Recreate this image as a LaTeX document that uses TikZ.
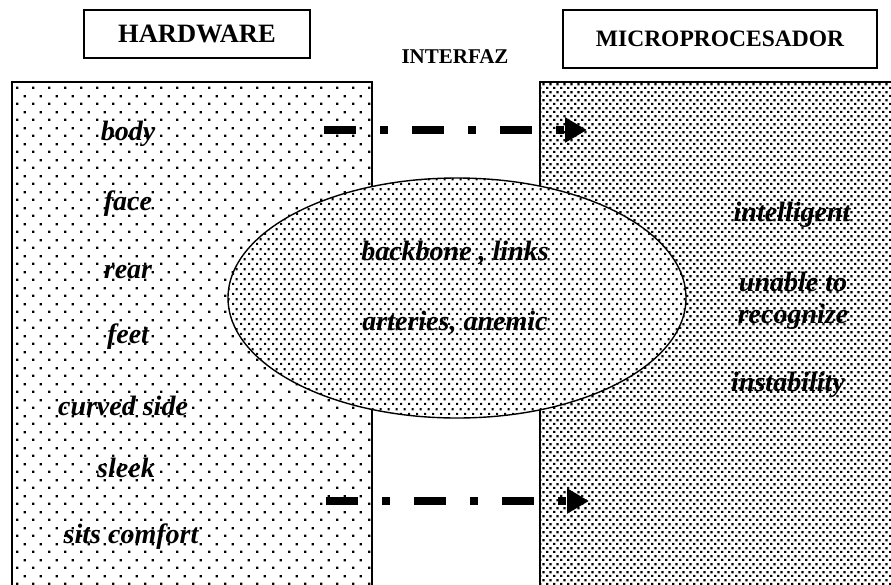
\documentclass[tikz,border=0pt]{standalone}
\usepackage{fontspec}
\setmainfont{Liberation Serif}
\usetikzlibrary{patterns}
\usetikzlibrary{shapes.geometric}
\usetikzlibrary{arrows.meta}
% dot fills, one per area
\pgfdeclarepatternformonly{sparsedots}{\pgfpointorigin}{\pgfqpoint{16pt}{16pt}}{\pgfqpoint{16pt}{16pt}}{
  \pgfpathrectangle{\pgfqpoint{0pt}{0pt}}{\pgfqpoint{2.4pt}{2.4pt}}
  \pgfpathrectangle{\pgfqpoint{8pt}{8pt}}{\pgfqpoint{2.4pt}{2.4pt}}
  \pgfusepath{fill}}
\pgfdeclarepatternformonly{middots}{\pgfpointorigin}{\pgfqpoint{8pt}{10pt}}{\pgfqpoint{8pt}{10pt}}{
  \pgfpathrectangle{\pgfqpoint{0pt}{0pt}}{\pgfqpoint{2.4pt}{2.4pt}}
  \pgfpathrectangle{\pgfqpoint{4pt}{5pt}}{\pgfqpoint{2.4pt}{2.4pt}}
  \pgfusepath{fill}}
\pgfdeclarepatternformonly{densedots}{\pgfpointorigin}{\pgfqpoint{7.4pt}{8pt}}{\pgfqpoint{7.4pt}{8pt}}{
  \pgfpathrectangle{\pgfqpoint{0pt}{0pt}}{\pgfqpoint{2.5pt}{2.5pt}}
  \pgfpathrectangle{\pgfqpoint{3.7pt}{4pt}}{\pgfqpoint{2.5pt}{2.5pt}}
  \pgfusepath{fill}}
\tikzset{
    panel/.style = {draw=black, line width=1.8pt},
    titlebox/.style = {rectangle, draw=black, line width=1.6pt, inner sep=0pt, font=\bfseries\fontsize{26.5}{29}\selectfont},
    hwpanel/.style = {panel, pattern=sparsedots},
    mppanel/.style = {panel, pattern=densedots},
    bridge/.style = {ellipse, draw=black, line width=1.4pt, preaction={fill=white}, pattern=middots, inner sep=0pt},
    term/.style = {inner sep=1pt, align=center, font=\bfseries\itshape\fontsize{28}{32}\selectfont},
    link/.style = {line width=8.5pt, dash pattern=on 32pt off 24pt on 8pt off 24pt, -{Triangle[length=22pt,width=24pt]}}
}
\begin{document}
\begin{tikzpicture}[x=1pt,y=-1pt]
\path[use as bounding box] (0,0) rectangle (891,584);
%
\node[titlebox, minimum width=226, minimum height=48] at (197,34) (hw) {HARDWARE};
\node[titlebox, minimum width=314, minimum height=58, font=\bfseries\fontsize{23.5}{26}\selectfont] at (720,39) (mp) {MICROPROCESADOR};
\node[inner sep=0pt, font=\bfseries\fontsize{21}{23}\selectfont] at (455,57) (itf) {INTERFAZ};
%
\draw[hwpanel] (12,590) -- (12,82) -- (372,82) -- (372,590);
\draw[mppanel] (540,590) -- (540,82) -- (900,82) -- (900,590);
%
\node[bridge, minimum width=458, minimum height=240] at (457,298) (bus) {};
%
\coordinate (ta) at (324,130);
\coordinate (tb) at (587,130);
\coordinate (ba) at (326,501);
\coordinate (bb) at (589,501);
\draw[link] (ta) -- (tb);
\draw[link] (ba) -- (bb);
%
\node[term] at (128,134) (body) {body};
\node[term] at (128,204) (face) {face};
\node[term] at (128,272) (rear) {rear};
\node[term] at (128,337) (feet) {feet};
\node[term] at (123,406) (side) {curved side};
\node[term] at (126,468) (sleek) {sleek};
\node[term] at (131,537) (sits) {sits comfort};
%
\node[term] at (455,253) (bone) {backbone , links};
\node[term] at (455,323) (art) {arteries, anemic};
%
\node[term] at (792,215) (intel) {intelligent};
\node[term] at (793,301) (unable) {unable to\\recognize};
\node[term] at (788,385) (inst) {instability};
\end{tikzpicture}
\end{document}
